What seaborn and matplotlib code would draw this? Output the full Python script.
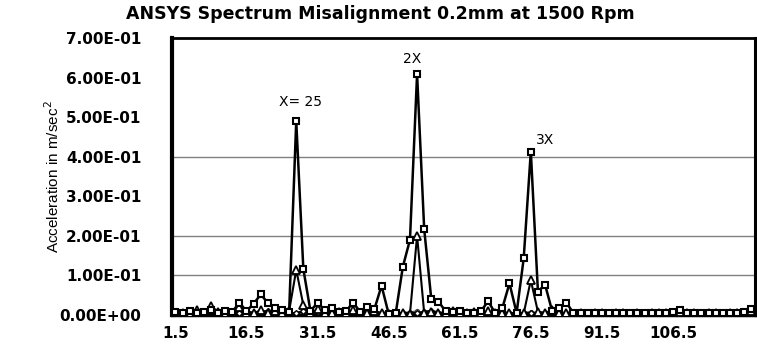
import numpy as np
import pandas as pd
import seaborn as sns
from matplotlib import pyplot as plt

# frequency categories (Hz), step 1.5
freq = np.round(np.arange(1, 83) * 1.5, 1)
tick_labels = ['1.5', '16.5', '31.5', '46.5', '61.5', '76.5', '91.5', '106.5']
tick_pos = [1.5, 16.5, 31.5, 46.5, 61.5, 76.5, 91.5, 106.5]

# series with square markers
sq = [0.008, 0.006, 0.010, 0.005, 0.008, 0.012, 0.006, 0.010, 0.008, 0.031,
      0.010, 0.028, 0.052, 0.031, 0.018, 0.012, 0.008, 0.490, 0.116, 0.010,
      0.031, 0.012, 0.018, 0.008, 0.010, 0.031, 0.008, 0.020, 0.015, 0.074,
      0.003, 0.005, 0.122, 0.190, 0.609, 0.217, 0.040, 0.034, 0.010, 0.008,
      0.010, 0.006, 0.004, 0.010, 0.035, 0.004, 0.018, 0.080, 0.005, 0.143,
      0.413, 0.059, 0.077, 0.010, 0.018, 0.031, 0.005, 0.006, 0.004, 0.005,
      0.006, 0.004, 0.005, 0.004, 0.006, 0.005, 0.004, 0.005, 0.006, 0.005,
      0.008, 0.012, 0.006, 0.005, 0.004, 0.005, 0.006, 0.004, 0.005, 0.006,
      0.008, 0.015]

# series with triangle markers
tri = [0.004, 0.006, 0.003, 0.012, 0.005, 0.022, 0.008, 0.003, 0.006, 0.020,
       0.005, 0.004, 0.012, 0.006, 0.010, 0.004, 0.010, 0.114, 0.025, 0.004,
       0.015, 0.006, 0.004, 0.008, 0.005, 0.012, 0.004, 0.006, 0.010, 0.005,
       0.003, 0.004, 0.006, 0.003, 0.200, 0.005, 0.008, 0.004, 0.006, 0.010,
       0.004, 0.005, 0.008, 0.004, 0.010, 0.005, 0.004, 0.006, 0.003, 0.004,
       0.088, 0.008, 0.005, 0.012, 0.004, 0.006, 0.003, 0.004, 0.003, 0.005,
       0.004, 0.003, 0.004, 0.005, 0.003, 0.004, 0.003, 0.004, 0.005, 0.004,
       0.006, 0.008, 0.005, 0.004, 0.003, 0.004, 0.005, 0.003, 0.004, 0.005,
       0.006, 0.010]

# near-zero series
dia = [0.010, 0.008, 0.012, 0.006, 0.009, 0.014, 0.007, 0.004, 0.008, 0.006,
       0.009, 0.005, 0.007, 0.010, 0.006, 0.008, 0.005, 0.004, 0.010, 0.006,
       0.008, 0.005, 0.009, 0.006, 0.004, 0.008, 0.010, 0.005, 0.006, 0.004,
       0.003, 0.005, 0.004, 0.006, 0.004, 0.008, 0.010, 0.006, 0.005, 0.004,
       0.006, 0.008, 0.005, 0.004, 0.006, 0.005, 0.007, 0.004, 0.003, 0.005,
       0.004, 0.006, 0.005, 0.008, 0.006, 0.004, 0.005, 0.006, 0.004, 0.005,
       0.006, 0.004, 0.005, 0.006, 0.005, 0.004, 0.006, 0.005, 0.004, 0.006,
       0.007, 0.009, 0.006, 0.005, 0.004, 0.006, 0.005, 0.004, 0.006, 0.005,
       0.007, 0.012]

gry = [0.003, 0.002, 0.004, 0.003, 0.002, 0.005, 0.003, 0.002, 0.003, 0.004,
       0.002, 0.003, 0.004, 0.002, 0.003, 0.002, 0.003, 0.006, 0.004, 0.002,
       0.003, 0.004, 0.002, 0.003, 0.002, 0.004, 0.003, 0.002, 0.003, 0.002,
       0.002, 0.003, 0.004, 0.006, 0.010, 0.004, 0.003, 0.002, 0.003, 0.002,
       0.003, 0.002, 0.003, 0.002, 0.004, 0.002, 0.003, 0.004, 0.002, 0.005,
       0.008, 0.003, 0.002, 0.003, 0.002, 0.003, 0.002, 0.003, 0.002, 0.003,
       0.002, 0.003, 0.002, 0.003, 0.002, 0.003, 0.002, 0.003, 0.002, 0.003,
       0.004, 0.005, 0.003, 0.002, 0.003, 0.002, 0.003, 0.002, 0.003, 0.002,
       0.004, 0.008]

yticks = [0.0, 0.1, 0.2, 0.3, 0.4, 0.5, 0.6, 0.7]
ytick_labels = ['0.00E+00', '1.00E-01', '2.00E-01', '3.00E-01',
                '4.00E-01', '5.00E-01', '6.00E-01', '7.00E-01']
grid_at = [0.1, 0.2, 0.4]

sns.set_style('white')
plt.rcParams['font.family'] = ['DejaVu Sans']
plt.rcParams['text.color'] = 'black'
plt.rcParams['xtick.color'] = 'black'
plt.rcParams['ytick.color'] = 'black'

fig = plt.figure(figsize=(7.57, 3.45), dpi=100)
ax = fig.add_axes([0.227, 0.087, 0.770, 0.803])

for g in grid_at:
    ax.axhline(g, color='#808080', lw=1.0, zorder=0)

sns.lineplot(x=freq, y=gry, ax=ax, color='#666666', lw=1.5, marker='o', ms=3,
             mfc='#999999', mec='#444444', zorder=2)
sns.lineplot(x=freq, y=dia, ax=ax, color='black', lw=1.8, marker='D', ms=3,
             mfc='white', mec='black', mew=1, zorder=3)
sns.lineplot(x=freq, y=tri, ax=ax, color='black', lw=1.5, marker='^', ms=6,
             mfc='white', mec='black', mew=1.3, zorder=4)
sns.lineplot(x=freq, y=sq, ax=ax, color='black', lw=1.8, marker='s', ms=5,
             mfc='white', mec='black', mew=1.5, zorder=5)

ax.set_xlim(0.75, 123.75)
ax.set_ylim(0, 0.7)
ax.set_xticks(tick_pos)
ax.set_xticklabels(tick_labels, fontweight='bold', fontsize=11)
ax.set_yticks(yticks)
ax.set_yticklabels(ytick_labels, fontweight='bold', fontsize=11)
ax.tick_params(axis='y', length=0, pad=22)
ax.tick_params(axis='x', length=0, pad=8)

for s in ax.spines.values():
    s.set_visible(True)
    s.set_color('black')
ax.spines['left'].set_linewidth(3)
ax.spines['top'].set_linewidth(2)
ax.spines['right'].set_linewidth(2.2)
ax.spines['bottom'].set_linewidth(2.5)

ax.text(28.0, 0.52, 'X= 25', ha='center', va='bottom', fontsize=10)
ax.text(51.5, 0.628, '2X', ha='center', va='bottom', fontsize=10)
ax.text(79.5, 0.425, '3X', ha='center', va='bottom', fontsize=10)

fig.text(0.069, 0.487, 'Acceleration in m/sec$^2$', rotation=90, ha='center',
         va='center', fontsize=11, family=['Liberation Sans Narrow', 'Liberation Sans'])
fig.suptitle('ANSYS Spectrum Misalignment 0.2mm at 1500 Rpm', x=0.503, y=0.985,
             fontsize=12.5, fontweight='bold')

fig.savefig('out.png', dpi=100)
